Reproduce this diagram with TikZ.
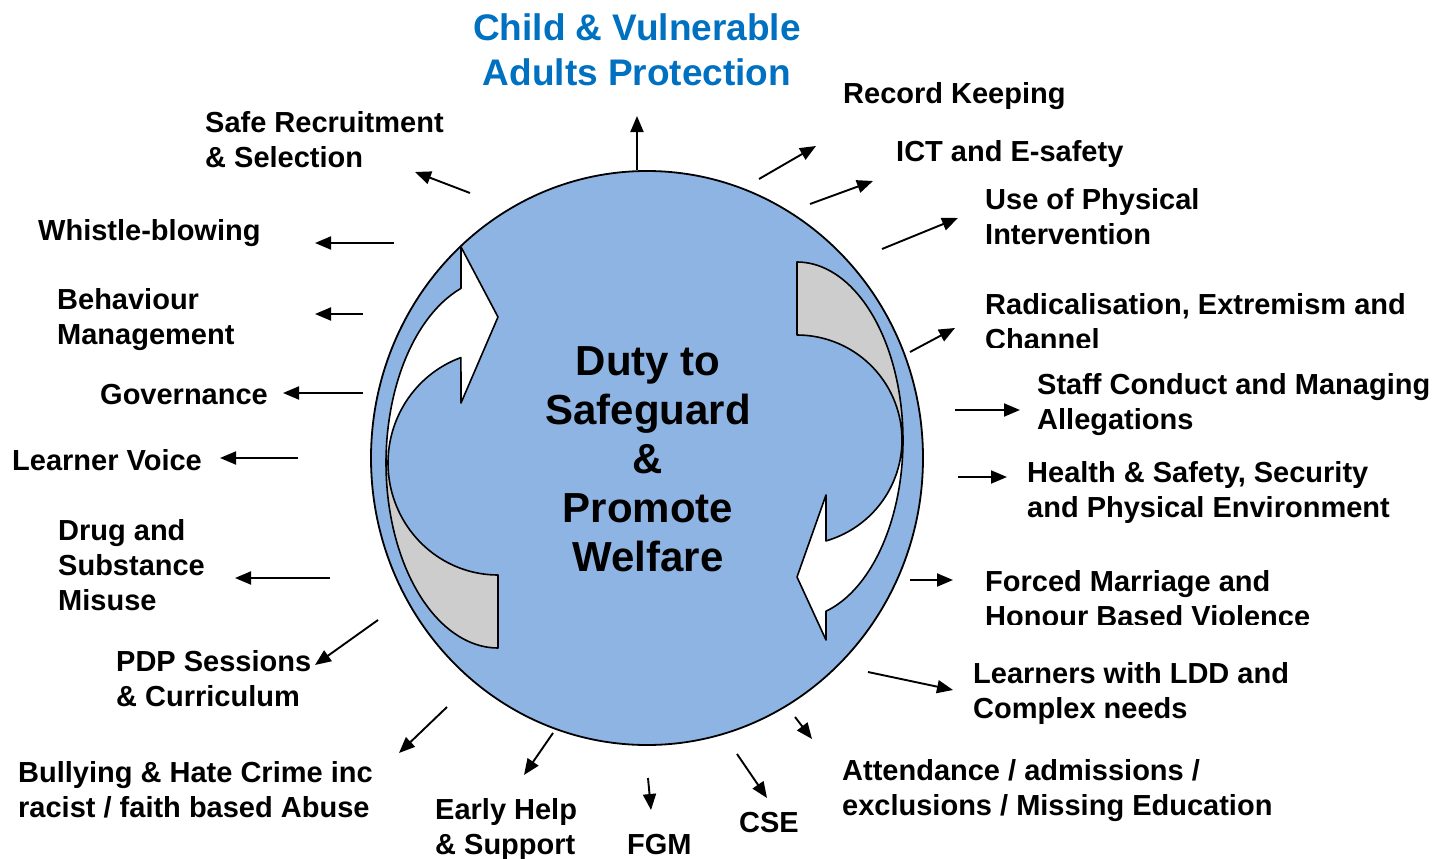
\documentclass[tikz,border=0pt]{standalone}
\usepackage{fontspec}
\setmainfont{Liberation Sans}
\usetikzlibrary{arrows.meta}
\definecolor{circfill}{HTML}{8EB4E3}
\definecolor{headblue}{HTML}{0070C0}
\definecolor{bandgrey}{HTML}{CDCDCD}
\begin{document}
\begin{tikzpicture}[x=1pt,y=-1pt,
  lbl/.style={font=\fontsize{29}{35}\selectfont\bfseries, align=left, anchor=base west, inner sep=0pt},
  conn/.style={line width=1.9pt, -{Triangle[length=16pt,width=13pt]}},
  band/.style={draw=black, line width=1.6pt, line join=round},
]
\useasboundingbox (0,0) rectangle (1452,859);

% main circle
\draw[fill=circfill, line width=1.8pt] (647,458) ellipse [x radius=276pt, y radius=287pt];

% left curved arrow
\draw[band, fill=bandgrey] plot[domain=180:90, samples=40] ({498+112*cos(\x)},{463+185*sin(\x)})
  -- (498,575) -- plot[domain=90:180, samples=40] ({498+110*cos(\x)},{463+112*sin(\x)}) -- cycle;
\draw[band, fill=white] plot[domain=180:250.7, samples=40] ({498+112*cos(\x)},{463+185*sin(\x)})
  -- (461,247) -- (498,317) -- (461,403)
  -- plot[domain=250.3:180, samples=40] ({498+110*cos(\x)},{463+112*sin(\x)}) -- cycle;

% right curved arrow
\draw[band, fill=bandgrey] plot[domain=270:360, samples=40] ({797+106*cos(\x)},{440+178*sin(\x)})
  -- plot[domain=360:270, samples=40] ({797+105*cos(\x)},{440+105*sin(\x)}) -- cycle;
\draw[band, fill=white] plot[domain=0:74.1, samples=40] ({797+106*cos(\x)},{440+178*sin(\x)})
  -- (826,640) -- (797,577) -- (826,495)
  -- plot[domain=74.0:0, samples=40] ({797+105*cos(\x)},{440+105*sin(\x)}) -- cycle;

% centre text (anchor = baseline of last line)
\node[font=\fontsize{42}{49}\selectfont\bfseries, align=center, anchor=base, inner sep=0pt] (duty) at (648,571)
  {Duty to\\Safeguard\\\&\\Promote\\Welfare};

% heading
\node[font=\fontsize{37}{45}\selectfont\bfseries, text=headblue, align=center, anchor=base, inner sep=0pt] (head) at (637,85)
  {Child \& Vulnerable\\Adults Protection};

% labels (anchor = baseline of last line)
\node[lbl] (safe) at (205,167) {Safe Recruitment\\\& Selection};
\node[lbl] (whistle) at (38,240) {Whistle-blowing};
\node[lbl] (behav) at (57,344) {Behaviour\\Management};
\node[lbl] (gov) at (100,404) {Governance};
\node[lbl] (voice) at (12,470) {Learner Voice};
\node[lbl] (drug) at (58,610) {Drug and\\Substance\\Misuse};
\node[lbl] (pdp) at (116,706) {PDP Sessions\\\& Curriculum};
\node[lbl] (bully) at (18,817) {Bullying \& Hate Crime inc\\racist / faith based Abuse};
\node[lbl] (early) at (435,854) {Early Help\\\& Support};
\node[lbl] (fgm) at (627,854) {FGM};
\node[lbl] (cse) at (739,832) {CSE};
\node[lbl] (attend) at (842,815) {Attendance / admissions /\\exclusions / Missing Education};
\node[lbl] (ldd) at (973,718) {Learners with LDD and\\Complex needs};
\node[lbl] (staff) at (1037,429) {Staff Conduct and Managing\\Allegations};
\node[lbl] (health) at (1027,517) {Health \& Safety, Security\\and Physical Environment};
\node[lbl] (record) at (843,103) {Record Keeping};
\node[lbl] (ict) at (896,161) {ICT and E-safety};
\node[lbl] (phys) at (985,244) {Use of Physical\\Intervention};
\begin{scope}
  \clip (960,280) rectangle (1452,347);
  \node[lbl] (rad) at (985,349) {Radicalisation, Extremism and\\Channel};
\end{scope}
\begin{scope}
  \clip (960,555) rectangle (1452,624);
  \node[lbl] (forced) at (985,626) {Forced Marriage and\\Honour Based Violence};
\end{scope}

% connector end points
\coordinate (s1) at (637,170);  \coordinate (e1) at (637,116);
\coordinate (s2) at (470,193);  \coordinate (e2) at (415,172);
\coordinate (s3) at (759,179);  \coordinate (e3) at (816,146);
\coordinate (s4) at (810,204);  \coordinate (e4) at (873,181);
\coordinate (s5) at (882,249);  \coordinate (e5) at (958,218);
\coordinate (s6) at (910,352);  \coordinate (e6) at (955,328);
\coordinate (s7) at (955,410);  \coordinate (e7) at (1020,410);
\coordinate (s8) at (958,477);  \coordinate (e8) at (1007,477);
\coordinate (s9) at (910,580);  \coordinate (e9) at (953,580);
\coordinate (s10) at (868,672); \coordinate (e10) at (953,690);
\coordinate (s11) at (795,717); \coordinate (e11) at (812,739);
\coordinate (s12) at (737,754); \coordinate (e12) at (767,798);
\coordinate (s13) at (648,778); \coordinate (e13) at (651,810);
\coordinate (s14) at (553,733); \coordinate (e14) at (524,775);
\coordinate (s15) at (447,707); \coordinate (e15) at (399,753);
\coordinate (s16) at (378,620); \coordinate (e16) at (315,665);
\coordinate (s17) at (330,578); \coordinate (e17) at (235,578);
\coordinate (s18) at (298,458); \coordinate (e18) at (220,458);
\coordinate (s19) at (363,393); \coordinate (e19) at (283,393);
\coordinate (s20) at (363,314); \coordinate (e20) at (315,314);
\coordinate (s21) at (394,243); \coordinate (e21) at (315,243);

\foreach \i in {1,...,21} { \draw[conn] (s\i) -- (e\i); }
\end{tikzpicture}
\end{document}
